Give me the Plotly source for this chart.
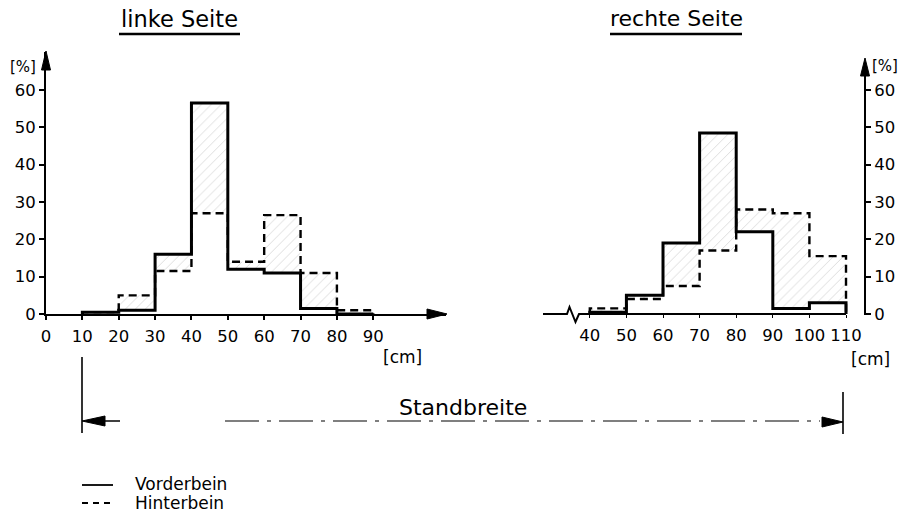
import plotly.graph_objects as go

# Standbreite (cm) – class edges and shares (%) per side
left_edges = [10, 20, 30, 40, 50, 60, 70, 80, 90]
left_vorderbein = [0.5, 1, 16, 56.5, 12, 11, 1.5, 0]
left_hinterbein = [0.5, 5, 11.5, 27, 14, 26.5, 11, 1]

right_edges = [40, 50, 60, 70, 80, 90, 100, 110]
right_vorderbein = [0.5, 5, 19, 48.5, 22, 1.5, 3]
right_hinterbein = [1.5, 4, 7.5, 17, 28, 27, 15.5]

left_xticks = [0, 10, 20, 30, 40, 50, 60, 70, 80, 90]
right_xticks = [40, 50, 60, 70, 80, 90, 100, 110]
yticks = [0, 10, 20, 30, 40, 50, 60]

W, H = 901, 516
FONT = "DejaVu Sans"


def px(x):
    return x / W


def py(y):
    return 1 - y / H


def step(edges, vals):
    xs = [edges[0], edges[0]] + edges[1:]
    ys = [0] + list(vals) + [0]
    return xs, ys


fig = go.Figure()

panels = [
    ("x", "y", left_edges, left_vorderbein, left_hinterbein),
    ("x2", "y2", right_edges, right_vorderbein, right_hinterbein),
]
for xa, ya, edges, vorn, hinten in panels:
    xs_v, ys_v = step(edges, vorn)
    xs_h, ys_h = step(edges, hinten)
    # light hatching between the two distributions
    fig.add_trace(go.Scatter(x=xs_v, y=ys_v, xaxis=xa, yaxis=ya, mode="lines",
                             line=dict(width=0, shape="hv"), showlegend=False,
                             hoverinfo="skip"))
    fig.add_trace(go.Scatter(x=xs_h, y=ys_h, xaxis=xa, yaxis=ya, mode="lines",
                             line=dict(width=0, shape="hv"), fill="tonexty",
                             fillcolor="rgba(0,0,0,0)",
                             fillpattern=dict(shape="/", fgcolor="rgba(0,0,0,0.38)",
                                              bgcolor="rgba(0,0,0,0)", size=7,
                                              solidity=0.1),
                             showlegend=False, hoverinfo="skip"))
    fig.add_trace(go.Scatter(x=xs_h, y=ys_h, xaxis=xa, yaxis=ya, mode="lines",
                             name="Hinterbein", cliponaxis=False,
                             line=dict(color="black", width=2.4, shape="hv",
                                       dash="8px,5px"),
                             showlegend=False))
    fig.add_trace(go.Scatter(x=xs_v, y=ys_v, xaxis=xa, yaxis=ya, mode="lines",
                             name="Vorderbein", cliponaxis=False,
                             line=dict(color="black", width=3, shape="hv"),
                             showlegend=False))

y_dom = [py(314), py(52)]
y_rng = [0, (314 - 52) / 3.733]
tickfont = dict(family=FONT, size=16.5, color="black")

fig.update_layout(
    width=W, height=H,
    margin=dict(l=0, r=0, t=0, b=0, autoexpand=False),
    paper_bgcolor="white", plot_bgcolor="white",
    showlegend=False,
    xaxis=dict(domain=[px(46), px(446)], range=[0, 110], anchor="y",
               automargin=False,
               showline=True, linecolor="black", linewidth=2,
               ticks="outside", ticklen=4, tickwidth=1.5, tickcolor="black",
               tickvals=left_xticks, tickfont=tickfont, showgrid=False,
               zeroline=False, ticklabelstandoff=2),
    xaxis2=dict(domain=[px(543), px(865)], range=[27.21, 115.19], anchor="y2",
                automargin=False,
                showline=False, ticks="outside", ticklen=3, tickwidth=1.2,
                tickcolor="black", tickvals=right_xticks, tickfont=tickfont,
                showgrid=False, zeroline=False, ticklabelstandoff=3),
    yaxis=dict(domain=y_dom, range=y_rng, anchor="x", side="left",
               automargin=False,
               showline=True, linecolor="black", linewidth=2,
               ticks="outside", ticklen=5, tickwidth=1.5, tickcolor="black",
               tickvals=yticks, tickfont=tickfont, showgrid=False,
               zeroline=False),
    yaxis2=dict(domain=y_dom, range=y_rng, anchor="x2", side="right",
                automargin=False,
                showline=False,
                ticks="outside", ticklen=5, tickwidth=1.5, tickcolor="black",
                tickvals=yticks, tickfont=tickfont, showgrid=False,
                zeroline=False),
)

shapes = []


def tri(x1, y1, x2, y2, x3, y3):
    return dict(type="path", xref="paper", yref="paper",
                path=f"M {px(x1)},{py(y1)} L {px(x2)},{py(y2)} L {px(x3)},{py(y3)} Z",
                fillcolor="black", line=dict(color="black", width=1))


def seg(x0, y0, x1, y1, width=2, dash="solid"):
    return dict(type="line", xref="paper", yref="paper",
                x0=px(x0), y0=py(y0), x1=px(x1), y1=py(y1),
                line=dict(color="black", width=width, dash=dash))


# axis arrowheads and the right-hand ordinate
shapes.append(tri(447, 314, 427, 309, 427, 319))
shapes.append(tri(46, 51, 41.5, 70, 50.5, 70))
shapes.append(seg(865, 315, 865, 70, width=2))
shapes.append(tri(865, 58, 860.5, 76, 869.5, 76))

# right baseline with axis break
shapes.append(dict(type="path", xref="paper", yref="paper",
                   path=(f"M {px(543)},{py(314)} L {px(567)},{py(314)} "
                         f"L {px(569.5)},{py(307)} L {px(575.5)},{py(322)} "
                         f"L {px(579)},{py(314)} L {px(846)},{py(314)}"),
                   line=dict(color="black", width=2)))

# title underlines
shapes.append(seg(119, 34, 240, 34, width=2.5))
shapes.append(seg(610, 34, 742, 34, width=2.5))

# Standbreite dimension line
shapes.append(seg(82, 357, 82, 433, width=1.6))
shapes.append(seg(843, 392, 843, 434, width=1.6))
shapes.append(tri(82, 421, 105, 416, 105, 426))
shapes.append(tri(843, 422, 822, 417, 822, 427))
shapes.append(seg(104, 421, 120, 421, width=1.5))
shapes.append(seg(225, 421, 820, 421, width=1.2, dash="34px,8px,4px,8px"))

# legend samples
shapes.append(seg(82, 485, 113, 485, width=1.8))
shapes.append(seg(82, 503, 113, 503, width=1.8, dash="6px,5px"))

fig.update_layout(shapes=shapes)

annotations = []


def label(x, y, text, size, xanchor="center"):
    annotations.append(dict(x=px(x), y=py(y), xref="paper", yref="paper",
                            text=text, showarrow=False, xanchor=xanchor,
                            yanchor="middle",
                            font=dict(family=FONT, size=size, color="black")))


label(179.5, 19, "linke Seite", 22.5)
label(676, 19, "rechte Seite", 22)
label(23, 67, "[%]", 15)
label(885, 66, "[%]", 15)
label(402, 357, "[cm]", 17)
label(870, 359, "[cm]", 17)
label(463, 407, "Standbreite", 22)
label(133, 484, "Vorderbein", 17, xanchor="left")
label(133, 503, "Hinterbein", 17, xanchor="left")

fig.update_layout(annotations=annotations)

fig.write_html("out.html")
